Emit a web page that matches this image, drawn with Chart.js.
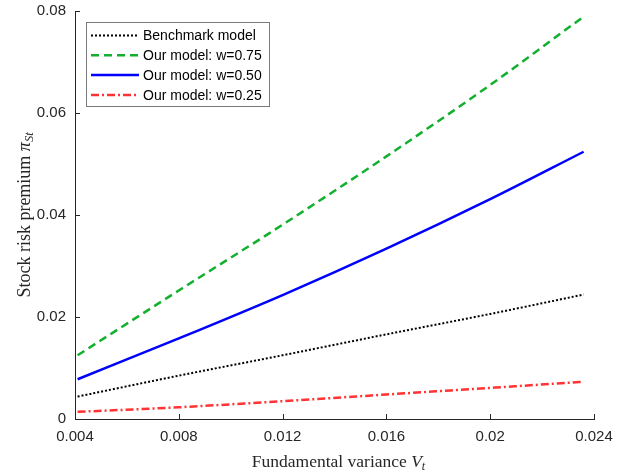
<!DOCTYPE html>
<html>
<head>
<meta charset="utf-8">
<script src="https://cdn.jsdelivr.net/npm/chart.js@4/dist/chart.umd.min.js"></script>
<style>
  html, body { margin: 0; padding: 0; background: #fff; }
  #wrap { width: 622px; height: 472px; }
</style>
</head>
<body>
<div id="wrap"><canvas id="chart"></canvas></div>
<script>
// values
const variance = [0.0041, 0.008, 0.012, 0.016, 0.020, 0.0236];
const benchmark = [0.0044, 0.0085, 0.0125, 0.0166, 0.0206, 0.0244];
const modelW75 = [0.0125, 0.0252, 0.0381, 0.0515, 0.0655, 0.0789];
const modelW50 = [0.0078, 0.0158, 0.0243, 0.0334, 0.0431, 0.0524];
const modelW25 = [0.0014, 0.0023, 0.0035, 0.0048, 0.0061, 0.0073];

const xTicks = [0.004, 0.008, 0.012, 0.016, 0.02, 0.024];
const yTicks = [0, 0.02, 0.04, 0.06, 0.08];
const seriesNames = ["Benchmark model", "Our model: w=0.75", "Our model: w=0.50", "Our model: w=0.25"];

const axisColor = "#262626";
const tickFont = { family: "'Liberation Sans', Arial, sans-serif", size: 15 };

const toPoints = (ys) => ys.map((y, i) => ({ x: variance[i], y }));

// MATLAB-like inward ticks, axis titles with subscripts, legend inside the axes
const decorations = {
  id: "decorations",
  afterDraw(chart) {
    const { ctx, chartArea, scales } = chart;
    const { x, y } = scales;
    ctx.save();
    ctx.strokeStyle = axisColor;
    ctx.lineWidth = 1;
    ctx.beginPath();
    xTicks.forEach((v) => {
      const px = Math.round(x.getPixelForValue(v)) + 0.5;
      ctx.moveTo(px, chartArea.bottom);
      ctx.lineTo(px, chartArea.bottom - 5);
    });
    yTicks.forEach((v) => {
      const py = Math.round(y.getPixelForValue(v)) + 0.5;
      ctx.moveTo(chartArea.left, py);
      ctx.lineTo(chartArea.left + 5, py);
    });
    ctx.stroke();

    // x title: Fundamental variance V_t
    const serif = "'Liberation Serif', 'Times New Roman', serif";
    ctx.fillStyle = axisColor;
    ctx.textBaseline = "alphabetic";
    ctx.textAlign = "left";
    const xParts = [
      { t: "Fundamental variance ", f: `17.5px ${serif}`, dy: 0 },
      { t: "V", f: `italic 17.5px ${serif}`, dy: 0 },
      { t: "t", f: `italic 12px ${serif}`, dy: 3 },
    ];
    drawParts(ctx, xParts, (chartArea.left + chartArea.right) / 2 + 4, 467);

    // y title: Stock risk premium pi_St
    ctx.save();
    ctx.translate(30, (chartArea.top + chartArea.bottom) / 2);
    ctx.rotate(-Math.PI / 2);
    const yParts = [
      { t: "Stock risk premium ", f: `18px ${serif}`, dy: 0 },
      { t: "\u03c0", f: `italic 18px ${serif}`, dy: 0 },
      { t: "St", f: `italic 12.5px ${serif}`, dy: 3 },
    ];
    drawParts(ctx, yParts, 0, 0);
    ctx.restore();

    // legend
    const box = { l: 86.5, t: 22.5, r: 269.5, b: 106.5 };
    ctx.fillStyle = "#fff";
    ctx.fillRect(box.l, box.t, box.r - box.l, box.b - box.t);
    ctx.strokeStyle = "#7a7a7a";
    ctx.lineWidth = 1;
    ctx.strokeRect(box.l, box.t, box.r - box.l, box.b - box.t);
    ctx.font = "14px 'Liberation Sans', Arial, sans-serif";
    ctx.textBaseline = "middle";
    chart.data.datasets.forEach((ds, i) => {
      const cy = 35.5 + i * 19.8;
      ctx.strokeStyle = ds.borderColor;
      ctx.lineWidth = ds.borderWidth;
      ctx.setLineDash(ds.borderDash || []);
      ctx.beginPath();
      ctx.moveTo(91, cy);
      ctx.lineTo(139, cy);
      ctx.stroke();
      ctx.setLineDash([]);
      ctx.fillStyle = "#000";
      ctx.fillText(ds.label, 143, cy + 1);
    });
    ctx.restore();
  },
};

function drawParts(ctx, parts, cx, baseY) {
  let total = 0;
  parts.forEach((p) => { ctx.font = p.f; total += ctx.measureText(p.t).width; });
  let px = cx - total / 2;
  parts.forEach((p) => {
    ctx.font = p.f;
    ctx.fillText(p.t, px, baseY + p.dy);
    px += ctx.measureText(p.t).width;
  });
}

new Chart(document.getElementById("chart"), {
  type: "line",
  data: {
    datasets: [
      {
        label: seriesNames[0],
        data: toPoints(benchmark),
        borderColor: "#000000",
        borderWidth: 2,
        borderDash: [2, 2],
      },
      {
        label: seriesNames[1],
        data: toPoints(modelW75),
        borderColor: "#12b02e",
        borderWidth: 2.5,
        borderDash: [8, 5],
      },
      {
        label: seriesNames[2],
        data: toPoints(modelW50),
        borderColor: "#0000ff",
        borderWidth: 2.5,
      },
      {
        label: seriesNames[3],
        data: toPoints(modelW25),
        borderColor: "#ff3333",
        borderWidth: 2.5,
        borderDash: [8, 3, 2, 3],
      },
    ],
  },
  options: {
    responsive: true,
    maintainAspectRatio: false,
    animation: false,
    events: [],
    layout: { padding: { left: 0, top: 11, right: 28, bottom: 0 } },
    elements: {
      point: { radius: 0 },
      line: { cubicInterpolationMode: "monotone", fill: false },
    },
    scales: {
      x: {
        type: "linear",
        min: 0.004,
        max: 0.024,
        afterBuildTicks: (scale) => { scale.ticks = xTicks.map((v) => ({ value: v })); },
        afterFit: (scale) => {
          scale.height = 53;
          scale.paddingLeft = 0;
          scale.paddingRight = 0;
        },
        grid: { display: true, drawOnChartArea: false, drawTicks: false },
        border: { display: true, color: axisColor, width: 1 },
        ticks: {
          color: axisColor,
          font: tickFont,
          padding: 9,
          maxRotation: 0,
          callback: (v) => String(Number(v.toFixed(3))),
        },
      },
      y: {
        type: "linear",
        min: 0,
        max: 0.08,
        afterBuildTicks: (scale) => { scale.ticks = yTicks.map((v) => ({ value: v })); },
        afterFit: (scale) => {
          scale.width = 75;
          scale.paddingTop = 0;
          scale.paddingBottom = 0;
        },
        grid: { display: true, drawOnChartArea: false, drawTicks: false },
        border: { display: true, color: axisColor, width: 1 },
        ticks: {
          color: axisColor,
          font: tickFont,
          padding: 9,
          callback: (v) => String(Number(v.toFixed(2))),
        },
      },
    },
    plugins: {
      legend: { display: false },
      tooltip: { enabled: false },
    },
  },
  plugins: [decorations],
});
</script>
</body>
</html>
